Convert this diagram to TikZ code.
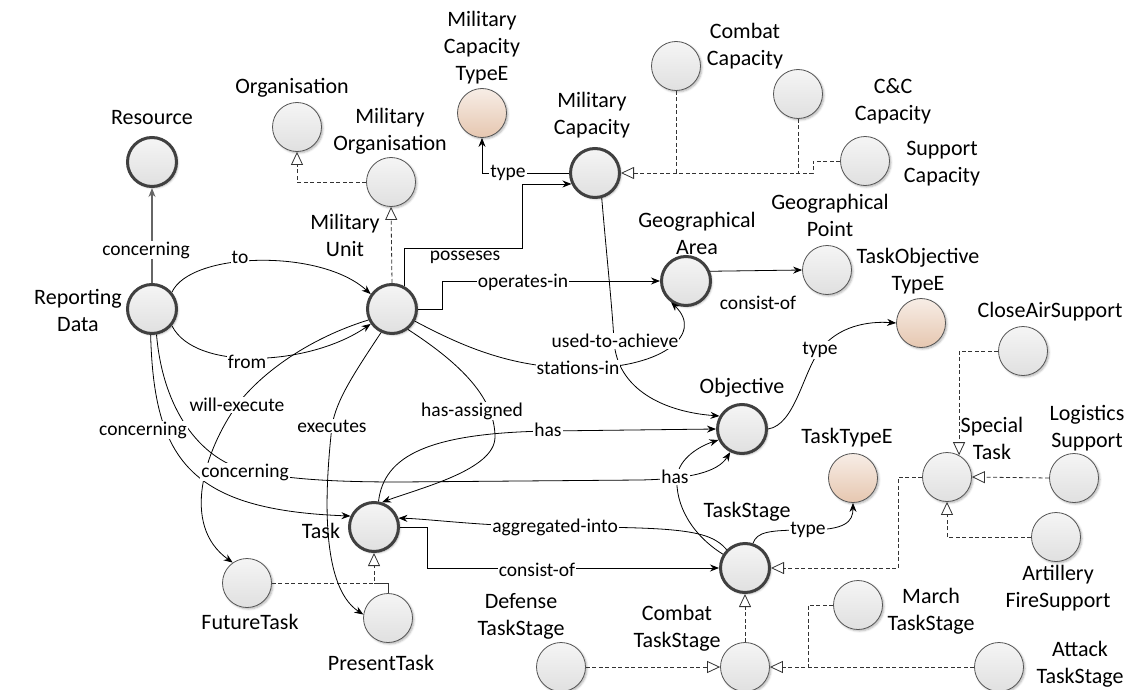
\documentclass[tikz,border=0pt]{standalone}
\usepackage{fontspec}
\setmainfont{Carlito}
\usetikzlibrary{arrows.meta,shadows.blur}

\definecolor{greyA}{HTML}{F5F5F5}
\definecolor{greyB}{HTML}{E0E0E0}
\definecolor{peachA}{HTML}{F7EDE6}
\definecolor{peachB}{HTML}{E6C7B0}
\definecolor{rimdark}{HTML}{404040}
\definecolor{rimthin}{HTML}{555555}

\begin{document}
\begin{tikzpicture}[x=1pt,y=-1pt,
  cls/.style={circle, minimum size=49pt, inner sep=0pt,
    top color=greyA, bottom color=greyB,
    blur shadow={shadow xshift=1.5pt, shadow yshift=-1.5pt,
      shadow blur radius=2pt, shadow opacity=30}},
  plaincls/.style={cls, draw=rimthin, line width=0.8pt},
  corecls/.style={cls, draw=rimdark, line width=3pt},
  enumcls/.style={plaincls, top color=peachA, bottom color=peachB},
  lbl/.style={font=\fontsize{22}{27}\selectfont, align=center, inner sep=0pt},
  elab/.style={font=\fontsize{19.5}{22}\selectfont, fill=white, inner sep=1pt},
  rel/.style={draw=black, line width=0.8pt, -{Stealth[length=9pt,width=7pt]}},
  genline/.style={draw=black!80, line width=0.8pt, dash pattern=on 4pt off 2.5pt},
  gen/.style={genline, -{Triangle[open,length=13pt,width=12pt,fill=white,line width=0.8pt]}},
]
\path[use as bounding box] (0,0) rectangle (1140,690);

% ---------- classes ----------
\node[corecls] (res) at (152,162) {};
\node[lbl] (res-l) at (152,118) {Resource};
\node[corecls] (rep) at (152,309) {};
\node[lbl] (rep-l) at (78,310) {Reporting\\Data};
\node[plaincls] (org) at (297,127) {};
\node[lbl] (org-l) at (292,88) {Organisation};
\node[plaincls] (milorg) at (391,182) {};
\node[lbl] (milorg-l) at (390,131) {Military\\Organisation};
\node[corecls] (mu) at (392,309) {};
\node[lbl] (mu-l) at (345,235) {Military\\Unit};
\node[enumcls] (mctype) at (482,113) {};
\node[lbl] (mctype-l) at (482,48) {Military\\Capacity\\TypeE};
\node[corecls] (mc) at (595,173) {};
\node[lbl] (mc-l) at (592,115) {Military\\Capacity};
\node[plaincls] (combcap) at (676,66) {};
\node[lbl] (combcap-l) at (745,46) {Combat\\Capacity};
\node[plaincls] (cccap) at (798,94) {};
\node[lbl] (cccap-l) at (893,101) {C\&C\\Capacity};
\node[plaincls] (supcap) at (865,161) {};
\node[lbl] (supcap-l) at (942,164) {Support\\Capacity};
\node[corecls] (ga) at (686,281) {};
\node[lbl] (ga-l) at (697,233) {Geographical\\Area};
\node[plaincls] (gp) at (827,270) {};
\node[lbl] (gp-l) at (830,215) {Geographical\\Point};
\node[enumcls] (totype) at (921,323) {};
\node[lbl] (totype-l) at (918,271) {TaskObjective\\TypeE};
\node[plaincls] (cas) at (1023,351) {};
\node[lbl] (cas-l) at (1050,312) {CloseAirSupport};
\node[corecls] (obj) at (742,429) {};
\node[lbl] (obj-l) at (742,388) {Objective};
\node[plaincls] (special) at (947,477) {};
\node[lbl] (special-l) at (992,438) {Special\\Task};
\node[plaincls] (logi) at (1074,478) {};
\node[lbl] (logi-l) at (1087,428) {Logistics\\Support};
\node[enumcls] (tasktype) at (853,478) {};
\node[lbl] (tasktype-l) at (847,438) {TaskTypeE};
\node[plaincls] (art) at (1056,537) {};
\node[lbl] (art-l) at (1058,588) {Artillery\\FireSupport};
\node[corecls] (ts) at (745,568) {};
\node[lbl] (ts-l) at (747,512) {TaskStage};
\node[plaincls] (march) at (858,605) {};
\node[lbl] (march-l) at (931,611) {March\\TaskStage};
\node[plaincls] (def) at (561,667) {};
\node[lbl] (def-l) at (521,616) {Defense\\TaskStage};
\node[plaincls] (combts) at (745,667) {};
\node[lbl] (combts-l) at (677,628) {Combat\\TaskStage};
\node[plaincls] (attack) at (999,667) {};
\node[lbl] (attack-l) at (1080,664) {Attack\\TaskStage};
\node[corecls] (task) at (374,527) {};
\node[lbl] (task-l) at (321,531) {Task};
\node[plaincls] (future) at (247,583) {};
\node[lbl] (future-l) at (250,622) {FutureTask};
\node[plaincls] (present) at (388,618) {};
\node[lbl] (present-l) at (381,663) {PresentTask};

% ---------- generalisations ----------
\coordinate (capjoin) at (813,173);
\coordinate (tsjoin) at (808,667);
\draw[gen] (milorg.west) -| (org.south);
\draw[gen] (mu.north) -- (milorg.south);
\draw[gen] (supcap.west) -| (capjoin) -- (mc.east);
\draw[genline] (cccap.south) -- (cccap.south |- capjoin);
\draw[genline] (combcap.south) -- (combcap.south |- capjoin);
\draw[gen] (future.east) -| (task.south);
\draw[draw=black!80, line width=0.8pt] (present.north) |- (task.south |- future.east);
\draw[gen] (special.west) -- ++(-24,0) |- (ts.east);
\draw[gen] (cas.west) -| (special.61);
\draw[gen] (logi.west) -- (special.east);
\draw[gen] (art.west) -| (special.south);
\draw[gen] (combts.north) -- (ts.south);
\draw[gen] (def.east) -- (combts.west);
\draw[gen] (attack.west) -- (combts.east);
\draw[genline] (march.west) -| (tsjoin);

% ---------- relations ----------
\draw[rel, draw=black!60, line width=1.3pt] (rep) -- (res);
\draw[rel] (rep.40) .. controls (190,252) and (320,248) .. (mu.145);
\draw[rel] (rep.-40) .. controls (195,372) and (310,366) .. (mu.215);
\draw[rel] (mu.205) .. controls (310,338) and (262,372) .. (237,405)
  .. controls (205,450) and (180,525) .. (future.125);
\draw[rel] (mu.245) .. controls (355,372) and (336,400) .. (332,426)
  .. controls (326,480) and (318,585) .. (present.172);
\draw[rel] (mu.-52) .. controls (455,360) and (495,395) .. (495,437)
  .. controls (495,470) and (420,488) .. (task.72);
\draw[rel] (task.80) .. controls (384,455) and (430,433) .. (548,431) -- (obj.180);
\draw[rel] (rep.-93) .. controls (154,460) and (190,510) .. (task.155);
\draw[rel] (rep.-80) .. controls (163,410) and (200,458) .. (245,470)
  .. controls (285,479) and (330,482) .. (400,482) -- (640,480)
  .. controls (690,479) and (718,472) .. (obj.243);
\draw[rel] (ts.148) .. controls (692,535) and (675,505) .. (677,477)
  .. controls (679,458) and (700,446) .. (obj.205);
\draw[rel] (mc.-75) .. controls (607,260) and (612,305) .. (614,341)
  .. controls (617,390) and (665,412) .. (obj.150);
\draw[rel] (mu.-28) .. controls (460,345) and (510,368) .. (578,368)
  .. controls (660,370) and (705,335) .. (ga.235);
\draw[rel] (mu.east) -- ++(24,0) |- (ga.west);
\draw[rel] (mu.62) |- (522,248) |- (mc.205);
\draw[rel] (mc.west) -| (mctype.south);
\draw[rel] (ga.22) -- (gp.west);
\draw[rel] (obj.east) .. controls (795,425) and (803,372) .. (820,350)
  .. controls (838,326) and (868,321) .. (totype.west);
\draw[rel] (ts.72) .. controls (757,532) and (768,530) .. (808,530)
  .. controls (845,530) and (853,522) .. (tasktype.south);
\draw[rel] (ts.135) .. controls (710,530) and (680,527) .. (555,527)
  .. controls (480,526) and (430,519) .. (task.20);
\draw[rel] (task.east) -- (427,527) |- (ts.west);

% ---------- relation labels ----------
\node[elab] (e-res) at (146,250) {concerning};
\node[elab] (e-to) at (240,257) {to};
\node[elab] (e-from) at (247,362) {from};
\node[elab] (e-will) at (237,405) {will-execute};
\node[elab] (e-ctask) at (143,430) {concerning};
\node[elab] (e-cobj) at (245,472) {concerning};
\node[elab] (e-exec) at (332,426) {executes};
\node[elab] (e-assign) at (472,411) {has-assigned};
\node[elab] (e-has1) at (548,430) {has};
\node[elab] (e-has2) at (675,477) {has};
\node[elab] (e-used) at (615,341) {used-to-achieve};
\node[elab] (e-stat) at (578,368) {stations-in};
\node[elab] (e-oper) at (523,282) {operates-in};
\node[elab] (e-poss) at (465,257) {posseses};
\node[elab] (e-mctype) at (508,173) {type};
\node[elab] (e-gacons) at (758,303) {consist-of};
\node[elab] (e-objtype) at (820,350) {type};
\node[elab] (e-tstype) at (808,530) {type};
\node[elab] (e-aggr) at (555,527) {aggregated-into};
\node[elab] (e-cons) at (537,570) {consist-of};
\end{tikzpicture}
\end{document}
